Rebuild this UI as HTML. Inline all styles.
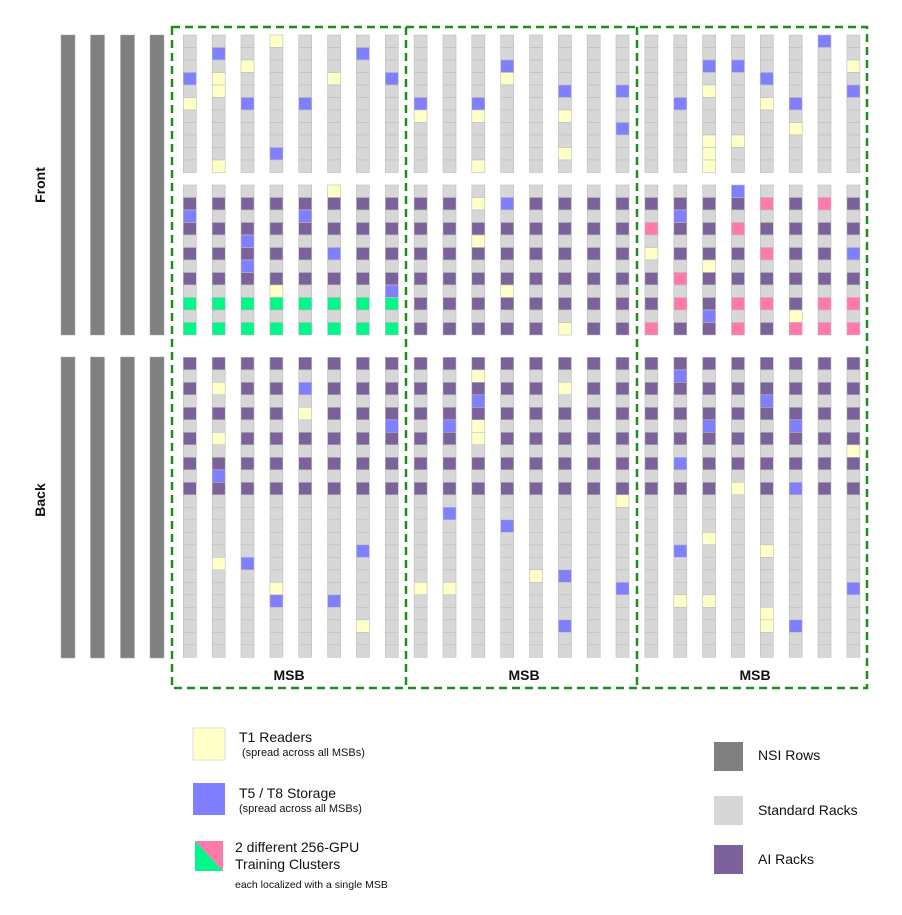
<!DOCTYPE html>
<html><head><meta charset="utf-8"><style>
body{margin:0;background:#fff;}
svg{display:block;font-family:"Liberation Sans",sans-serif;}
</style></head><body>
<svg id="s" width="902" height="915" viewBox="0 0 902 915" xmlns="http://www.w3.org/2000/svg">
<g id="g"></g>
<g fill="none" stroke="#1a8f1a" stroke-width="2.5" stroke-dasharray="8,5">
<rect x="172" y="27" width="695" height="661"/>
<line x1="406" y1="27" x2="406" y2="688"/>
<line x1="637" y1="27" x2="637" y2="688"/>
</g>
<g font-weight="bold" font-size="14" fill="#111" text-anchor="middle">
<text x="289" y="680">MSB</text><text x="524" y="680">MSB</text><text x="755" y="680">MSB</text>
<text transform="translate(45,185) rotate(-90)">Front</text>
<text transform="translate(45,500) rotate(-90)">Back</text>
</g>
<rect x="193" y="728" width="32" height="32" fill="#ffffc8" stroke="#ddd"/>
<rect x="193" y="783" width="32" height="32" fill="#8080ff"/>
<polygon points="195,841 223,871 195,871" fill="#00f78a"/>
<polygon points="195,841 223,841 223,871" fill="#ff7aaa"/>
<g fill="#111">
<text x="239" y="742" font-size="14">T1 Readers</text>
<text x="242" y="756" font-size="11">(spread across all MSBs)</text>
<text x="239" y="798" font-size="14">T5 / T8 Storage</text>
<text x="239" y="812" font-size="11">(spread across all MSBs)</text>
<text x="235" y="852" font-size="14">2 different 256-GPU</text>
<text x="235" y="869" font-size="14">Training Clusters</text>
<text x="235" y="888" font-size="10.5">each localized with a single MSB</text>
<text x="758" y="760" font-size="14">NSI Rows</text>
<text x="758" y="815" font-size="14">Standard Racks</text>
<text x="758" y="864" font-size="14">AI Racks</text>
</g>
<rect x="714" y="742" width="29" height="29" fill="#808080"/>
<rect x="714" y="796" width="29" height="29" fill="#d7d7d7"/>
<rect x="714" y="845" width="29" height="29" fill="#7b629b"/>
</svg>
<script>
var C={g:"#d7d7d7",p:"#7b629b",b:"#8080ff",y:"#ffffc8",G:"#00f78a",k:"#ff7aaa"};
var topD=[
"3b,5y","1b,3y,4y,10y","2y,5b","0y,9b","5b","3y","1b","3b",
"5b,6y","","5b,6y,10y","2b,3y","","4b,6y,9y","","4b,7b",
"","5b","2b,4y,8y,9y,10y","2b,8y","3b,5y","5b,7y","0b","2y,4b"];
var midD=[
"2b","","4b,6b","8y","2b","0y,5b","","8b",
"","","1y,4y","1b,8y","","11y","","",
"3k,5y,11k","2b,7k,9k","6y,10b","0b,3k,9k,11k","1k,5k,9k","10y,11k","1k,9k,11k","5b,9k,11k"];
var botD=[
"","2y,6y,9b,16y","16b","18y,19b","2b,4y","19b","15b,21y","5b",
"18y","5b,12b,18y","1y,3b,5y,6y","13b","17y","2y,17b,21b","","11y,18b",
"","1b,8b,15b,19y","5b,14y,19y","10y","3b,15y,20y,21y","5b,10b,21b","","7y,18b"];
var h='';
function bar(x,y,w,hh){h+='<rect x="'+x+'" y="'+y+'" width="'+w+'" height="'+hh+'" fill="#808080" stroke="#aaa" stroke-width="0.5"/>';}
[61,90.5,120.5,150].forEach(function(x){bar(x,35,14,300);bar(x,357,14,301);});
function grp(data,y0,n,base){
 for(var i=0;i<24;i++){
  var x=183.3+28.85*i, ov={};
  if(data[i])data[i].split(",").forEach(function(s){var r=parseInt(s);ov[r]=s.slice(-1);});
  for(var r=0;r<n;r++){
   var c=ov[r]!==undefined?ov[r]:base(r,i);
   h+='<rect x="'+x.toFixed(1)+'" y="'+(y0+12.5*r).toFixed(1)+'" width="13" height="12.5" fill="'+C[c]+'" stroke="#bdbdbd" stroke-width="0.6"/>';
  }
 }
}
grp(topD,35,11,function(){return "g";});
grp(midD,185,12,function(r,i){if(r%2==0)return "g";if(i<8&&(r==9||r==11))return "G";return "p";});
grp(botD,357.3,24,function(r){return (r%2==0&&r<=10)?"p":"g";});
document.getElementById("g").innerHTML=h;
</script>
</body></html>
